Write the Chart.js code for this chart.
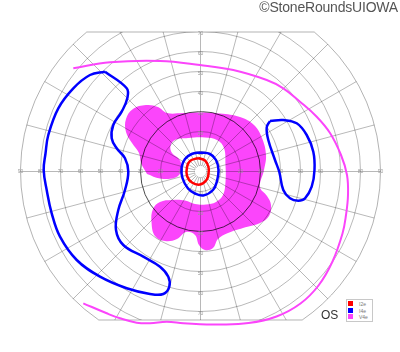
<!DOCTYPE html>
<html>
<head>
<meta charset="utf-8">
<script src="https://cdn.jsdelivr.net/npm/chart.js@4.4.1/dist/chart.umd.min.js"></script>
<style>
  html, body { margin: 0; padding: 0; background: #fff; }
  #wrap { position: relative; width: 400px; height: 352px; overflow: hidden; }
  #field { position: absolute; left: 0; top: 0; }
  .copy { position: absolute; right: 2px; top: -1px; font: 14px "Liberation Sans", Arial, sans-serif; color: #555; letter-spacing: -0.2px; }
  .eye { position: absolute; left: 321px; top: 308px; font: 12px "Liberation Sans", Arial, sans-serif; color: #333; }
  .legend { position: absolute; left: 346px; top: 299px; width: 27px; height: 23px; box-sizing: border-box; border: 1px solid #c8c8c8; background: #fff; padding: 1px 0 0 1px; }
  .legend div { height: 6.6px; font: 5px "Liberation Sans", Arial, sans-serif; color: #777; line-height: 6px; white-space: nowrap; }
  .legend span { display: inline-block; width: 5px; height: 5px; margin-right: 6px; vertical-align: top; }
</style>
</head>
<body>
<div id="wrap">
  <canvas id="field" width="400" height="352"></canvas>
  <div class="copy">©StoneRoundsUIOWA</div>
  <div class="eye">OS</div>
  <div class="legend" id="legend"></div>
</div>
<script>
// visual field grid (degrees)
const ringRadii = [10, 20, 30, 40, 50, 60, 70, 80, 90];
const darkRing = 30;
const meridians = [0, 15, 30, 45, 60, 75, 90, 105, 120, 135, 150, 165, 180, 195, 210, 225, 240, 255, 270, 285, 300, 315, 330, 345];
const hTickLabels = ['10', '20', '30', '40', '50', '60', '70', '80', '90'];
const vTickLabels = ['10', '20', '30', '40', '50', '60', '70'];
const topLimit = 69.75;
const bottomLimit = -74.25;

// isopters, [x, y] in degrees
const i2e = [[-1.25, 6.75], [2.25, 5.5], [4, 2.25], [4, -1.25], [3, -4.25], [-0.25, -6.5],
  [-4.25, -5.5], [-6.75, -2.25], [-6.75, 2.25], [-5.25, 5.25]];

const i4eCentral = [[0, 9.5], [4.75, 8.75], [7.75, 5.75], [9, 0.75], [8.25, -4.75], [6.25, -9.25],
  [1.4, -12], [-2.75, -11], [-6.25, -8.5], [-9, -3.25], [-9.4, 2.25], [-7.75, 6.25], [-4.4, 8.75]];

const i4eTemporal = [[-47.75, 49.9], [-36.9, 41.6], [-36.6, 36.6], [-39.4, 29.9], [-43.6, 23.25],
  [-44.4, 16.6], [-41.9, 11.6], [-37.75, 6.6], [-36.1, -0.1], [-37.75, -9.25], [-41.1, -19.25],
  [-42.25, -29.25], [-38.6, -36.75], [-28.6, -42.6], [-20.25, -47.6], [-16.1, -52.6], [-15.6, -57.6],
  [-18.6, -61.25], [-25.25, -61.25], [-36.9, -58.4], [-50.25, -52.6], [-61.9, -44.25], [-70.25, -32.6],
  [-74.4, -20.9], [-76.9, -9.25], [-78.4, 0.75], [-77.5, 9], [-76.1, 18.25], [-71.1, 31.6],
  [-63.6, 41.6], [-55.25, 48.25]];

const i4eNasal = [[34.75, 25.25], [41.4, 25.75], [48.1, 24.1], [53.1, 18.25], [56.4, 9.9], [57, 0.75],
  [55.6, -7.6], [52.25, -13.4], [48.9, -14.6], [44.75, -13.4], [41.4, -9.25], [39.4, -0.25],
  [37.25, 5.75], [33.9, 15.75], [33.1, 22]];

const v4eOuter = [[-63.6, 51.6], [-45.25, 54.6], [-20.25, 55.25], [-0.25, 53.25], [16.4, 50.75],
  [33.1, 45.75], [41.4, 41.6], [49.75, 34.9], [58.1, 27.4], [64.75, 19.25], [70.25, 8.25],
  [73.25, -1.75], [73.75, -11.75], [72.75, -21.75], [71, -31], [66, -45], [59, -57], [50, -66],
  [38, -72.5], [24, -75.8], [8, -76.5], [-0.25, -76.4], [-8.6, -75.9], [-16.9, -75.1], [-25.25, -75.9],
  [-31.9, -75.6], [-40.25, -73.4], [-46.9, -70.9], [-58.6, -65.9]];

// V4e scotoma area (filled), traced clockwise
const v4eArea = [[-26.75, -1.25], [-29.75, 4.25], [-30.75, 9.25], [-34.25, 14.25], [-37.25, 19.75],
  [-37.25, 26.25], [-33.75, 31.25], [-27.25, 33.25], [-21.25, 32.25], [-16.75, 29.25], [-8.75, 29.25],
  [-0.25, 29.5], [9.75, 29], [19.75, 27.25], [26.75, 23.25], [30.75, 16.75], [32.75, 8.25],
  [31.75, 0.75], [29.75, -7.75], [33.25, -12.25], [35.25, -16.75], [34.25, -22.25], [29.75, -25.75],
  [21.25, -28.25], [13.75, -30.75], [8.75, -33.75], [6.25, -38.25], [2.25, -39.25], [-0.75, -36.75],
  [-2.75, -31.75], [-7.25, -30.25], [-11.75, -33.75], [-17.75, -34.75], [-22.75, -32.25],
  [-24.5, -25.25], [-23.75, -18.75], [-20.25, -15.25], [-14.25, -14.25], [-7.75, -14.5],
  [-2.75, -16.25], [2.75, -16.5], [7.75, -15.25], [11.25, -11.75], [12.5, -5.25], [12.5, 3.25],
  [11.75, 11.75], [8.25, 15.75], [2.25, 17], [-6.25, 16.75], [-12.75, 15.75], [-15, 12.75],
  [-14.25, 9.25], [-10.75, 6.25], [-9.5, 2.75], [-10, -0.75], [-13.25, -3.25], [-20.25, -3.5]];

const legendLabels = ['I2e', 'I4e', 'V4e'];
const legendColors = ['#ff0000', '#0000ff', '#fb45fb'];

const pts = arr => arr.map(([x, y]) => ({ x, y }));
const loop = arr => pts([...arr, arr[0]]);

function fieldOutline(ctx, cx, cy, R, yTop, yBot) {
  const aTop = Math.asin((yTop - cy) / R);
  const aBot = Math.asin((yBot - cy) / R);
  ctx.beginPath();
  ctx.moveTo(cx + R * Math.cos(Math.PI - aTop), yTop);
  ctx.lineTo(cx + R * Math.cos(aTop), yTop);
  ctx.arc(cx, cy, R, aTop, aBot, false);
  ctx.lineTo(cx + R * Math.cos(Math.PI - aBot), yBot);
  ctx.arc(cx, cy, R, Math.PI - aBot, Math.PI - aTop, false);
  ctx.closePath();
}

const fieldGrid = {
  id: 'fieldGrid',
  afterDatasetDraw(chart, args) {
    if (args.index !== chart.data.datasets.length - 1) return;
    const { ctx, scales: { x, y } } = chart;
    const cx = x.getPixelForValue(0), cy = y.getPixelForValue(0);
    const k = x.getPixelForValue(1) - cx;
    const R = ringRadii[ringRadii.length - 1] * k;
    const yTop = y.getPixelForValue(topLimit), yBot = y.getPixelForValue(bottomLimit);

    ctx.save();
    fieldOutline(ctx, cx, cy, R, yTop, yBot);
    ctx.save();
    ctx.clip();
    ctx.lineWidth = 1;
    ctx.strokeStyle = 'rgba(0,0,0,0.28)';
    // meridians
    meridians.forEach(a => {
      const t = a * Math.PI / 180;
      ctx.beginPath();
      ctx.moveTo(cx + 3 * k * Math.cos(t), cy - 3 * k * Math.sin(t));
      ctx.lineTo(cx + R * 1.1 * Math.cos(t), cy - R * 1.1 * Math.sin(t));
      ctx.stroke();
    });
    // rings
    ringRadii.slice(0, -1).forEach(r => {
      ctx.beginPath();
      ctx.arc(cx, cy, r * k, 0, Math.PI * 2);
      ctx.strokeStyle = r === darkRing ? 'rgba(0,0,0,0.7)' : 'rgba(0,0,0,0.28)';
      ctx.stroke();
    });
    ctx.strokeStyle = 'rgba(0,0,0,0.3)';
    ctx.setLineDash([1, 1]);
    ctx.beginPath();
    ctx.arc(cx, cy, 3 * k, 0, Math.PI * 2);
    ctx.stroke();
    ctx.setLineDash([]);
    ctx.restore();

    // outer border
    fieldOutline(ctx, cx, cy, R, yTop, yBot);
    ctx.strokeStyle = 'rgba(0,0,0,0.3)';
    ctx.lineWidth = 1;
    ctx.stroke();

    // tick labels
    ctx.font = '5px "Liberation Sans", Arial, sans-serif';
    ctx.fillStyle = '#9a9a9a';
    ctx.textAlign = 'center';
    ctx.textBaseline = 'middle';
    hTickLabels.forEach((t, i) => {
      const r = ringRadii[i] * k;
      ctx.fillText(t, cx - r, cy);
      ctx.fillText(t, cx + r, cy);
    });
    vTickLabels.forEach((t, i) => {
      const r = ringRadii[i] * k;
      ctx.fillText(t, cx, cy - r + 2);
      ctx.fillText(t, cx, cy + r + 2);
    });
    ctx.restore();
  }
};

const lineSet = (label, data, color, width) => ({
  label, data, showLine: true, borderColor: color, borderWidth: width,
  pointRadius: 0, tension: 0.4, fill: false, order: 0
});

new Chart(document.getElementById('field'), {
  type: 'scatter',
  data: {
    datasets: [
      lineSet('I2e', loop(i2e), '#ff0000', 2.5),
      lineSet('I4e', loop(i4eCentral), '#0000ff', 2.5),
      lineSet('I4e', loop(i4eTemporal), '#0000ff', 2.5),
      lineSet('I4e', loop(i4eNasal), '#0000ff', 2.5),
      lineSet('V4e', pts(v4eOuter), '#fb45fb', 2),
      {
        label: 'V4e', data: loop(v4eArea), showLine: true, pointRadius: 0, tension: 0.4,
        borderWidth: 1, borderColor: 'rgba(0,0,0,0)', backgroundColor: '#fb45fb',
        fill: 'shape', order: 1
      }
    ]
  },
  options: {
    responsive: false,
    animation: false,
    layout: { padding: 0 },
    scales: {
      x: { type: 'linear', min: -100.25, max: 99.75, display: false },
      y: { type: 'linear', min: -90.25, max: 85.75, display: false }
    },
    plugins: {
      legend: { display: false },
      tooltip: { enabled: false }
    }
  },
  plugins: [fieldGrid]
});

document.getElementById('legend').innerHTML = legendLabels.map((l, i) =>
  `<div><span style="background:${legendColors[i]}"></span>${l}</div>`).join('');
</script>
</body>
</html>
